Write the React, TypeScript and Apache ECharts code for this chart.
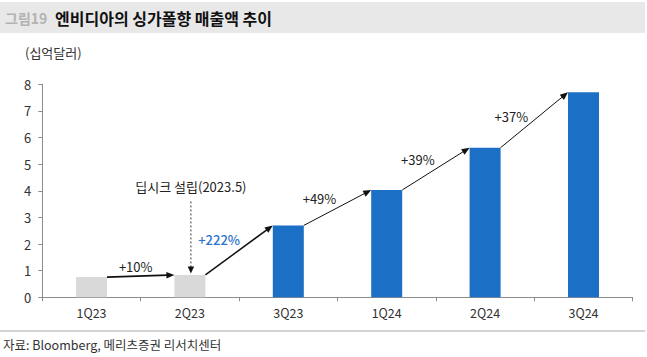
import React, { useEffect, useRef } from "react";
import * as echarts from "echarts";

// ---- data ----
const categories = ["1Q23", "2Q23", "3Q23", "1Q24", "2Q24", "3Q24"];
const revenue = [0.76, 0.84, 2.7, 4.03, 5.62, 7.7];
const beforeDeepSeek = [true, true, false, false, false, false];
const growthLabels = ["+10%", "+222%", "+49%", "+39%", "+37%"];
const highlightedGrowth = [false, true, false, false, false];
const yMin = 0;
const yMax = 8;
const yInterval = 1;
const deepSeekLabel = "딥시크 설립(2023.5)";
const deepSeekIndex = 1;
const titlePrefix = "그림19";
const titleText = "엔비디아의 싱가폴향 매출액 추이";
const unitText = "(십억달러)";
const sourceText = "자료: Bloomberg, 메리츠증권 리서치센터";

// ---- layout / style ----
const FONT = "'Noto Sans CJK KR', 'Noto Sans', sans-serif";
const BAR_RATIO = 0.315;
const GRAY = "#d9d9d9";
const BLUE = "#1b6fc5";
const LABEL_BLUE = "#2b74c9";
const LABEL_OFFSETS = [
  [-5, -10],
  [-20, -11],
  [-18, -9],
  [-18, -9],
  [-23, -3],
];
const ARROW_WIDTHS = [1.8, 1.5, 1, 1, 1];

export default function App() {
  const ref = useRef<HTMLDivElement>(null);

  useEffect(() => {
    if (!ref.current) return;
    const chart = echarts.init(ref.current, null, { renderer: "svg" });

    const arrowData = growthLabels.map((_, i) => [i, revenue[i], i + 1, revenue[i + 1], i]);

    const option: any = {
      animation: false,
      textStyle: { fontFamily: FONT },
      grid: { left: 42.3, right: 14.3, top: 84.3, bottom: 59.7, containLabel: false },
      xAxis: {
        type: "category",
        data: categories,
        boundaryGap: true,
        axisLine: { show: true, lineStyle: { color: "#8c8c8c", width: 1 } },
        axisTick: { show: true, length: 4, lineStyle: { color: "#8c8c8c" } },
        axisLabel: { color: "#333", fontSize: 12.5, margin: 9, fontFamily: FONT },
        splitLine: { show: false },
      },
      yAxis: {
        type: "value",
        min: yMin,
        max: yMax,
        interval: yInterval,
        axisLine: { show: true, lineStyle: { color: "#8c8c8c", width: 1 } },
        axisTick: { show: true, length: 4, lineStyle: { color: "#8c8c8c" } },
        axisLabel: { color: "#333", fontSize: 13, margin: 11, fontFamily: FONT },
        splitLine: { show: false },
      },
      series: [
        {
          type: "bar",
          barWidth: BAR_RATIO * 100 + "%",
          z: 2,
          data: revenue.map((v, i) => ({
            value: v,
            itemStyle: { color: beforeDeepSeek[i] ? GRAY : BLUE },
          })),
        },
        {
          type: "custom",
          z: 3,
          encode: { x: 0, y: 1 },
          data: arrowData,
          renderItem: (params: any, api: any) => {
            const i = api.value(0);
            const v0 = api.value(1);
            const j = api.value(2);
            const v1 = api.value(3);
            const k = api.value(4);
            const p0 = api.coord([i, v0]);
            const p1 = api.coord([j, v1]);
            const bw = api.size([1, 0])[0];
            const half = (bw * BAR_RATIO) / 2;
            const sx = p0[0] + half;
            const sy = p0[1];
            const ex = p1[0] - half;
            const ey = p1[1];
            const dx = ex - sx;
            const dy = ey - sy;
            const len = Math.hypot(dx, dy);
            const ux = dx / len;
            const uy = dy / len;
            const headL = 8;
            const headW = 3.3;
            const bx = ex - ux * headL;
            const by = ey - uy * headL;
            const px = -uy;
            const py = ux;
            const off = LABEL_OFFSETS[k];
            return {
              type: "group",
              children: [
                {
                  type: "line",
                  shape: { x1: sx, y1: sy, x2: bx + ux * 1, y2: by + uy * 1 },
                  style: { stroke: "#111", lineWidth: ARROW_WIDTHS[k] },
                },
                {
                  type: "polygon",
                  shape: {
                    points: [
                      [ex, ey],
                      [bx + px * headW, by + py * headW],
                      [bx - px * headW, by - py * headW],
                    ],
                  },
                  style: { fill: "#111" },
                },
                {
                  type: "text",
                  style: {
                    text: growthLabels[k],
                    x: (sx + ex) / 2 + off[0],
                    y: (sy + ey) / 2 + off[1],
                    align: "center",
                    verticalAlign: "middle",
                    fill: highlightedGrowth[k] ? LABEL_BLUE : "#222",
                    font: `${highlightedGrowth[k] ? "500 " : ""}13px ${FONT}`,
                  },
                },
              ],
            };
          },
        },
        {
          type: "custom",
          z: 3,
          encode: { x: 0, y: 1 },
          data: [[deepSeekIndex, revenue[deepSeekIndex]]],
          renderItem: (params: any, api: any) => {
            const p = api.coord([api.value(0), api.value(1)]);
            const x = p[0] + 1;
            const tipY = p[1] - 1.5;
            const topY = p[1] - 73.5;
            const headL = 7;
            const headW = 3.2;
            return {
              type: "group",
              children: [
                {
                  type: "line",
                  shape: { x1: x, y1: topY, x2: x, y2: tipY - headL + 1 },
                  style: { stroke: "#333", lineWidth: 1, lineDash: [2, 2] },
                },
                {
                  type: "polygon",
                  shape: {
                    points: [
                      [x, tipY],
                      [x - headW, tipY - headL],
                      [x + headW, tipY - headL],
                    ],
                  },
                  style: { fill: "#111" },
                },
                {
                  type: "text",
                  style: {
                    text: deepSeekLabel,
                    x: x,
                    y: p[1] - 88.5,
                    align: "center",
                    verticalAlign: "middle",
                    fill: "#222",
                    font: `13px ${FONT}`,
                  },
                },
              ],
            };
          },
        },
      ],
      graphic: [
        {
          type: "rect",
          silent: true,
          shape: { x: 0, y: 2, width: 645, height: 31 },
          style: { fill: "#e8e8e8" },
        },
        {
          type: "text",
          style: {
            text: titlePrefix,
            x: 5,
            y: 18,
            verticalAlign: "middle",
            fill: "#b3b3b3",
            font: `bold 14px ${FONT}`,
          },
        },
        {
          type: "text",
          style: {
            text: titleText,
            x: 55,
            y: 17.5,
            verticalAlign: "middle",
            fill: "#111",
            font: `bold 16px ${FONT}`,
          },
        },
        {
          type: "text",
          style: {
            text: unitText,
            x: 25,
            y: 52,
            verticalAlign: "middle",
            fill: "#333",
            font: `13px ${FONT}`,
          },
        },
        {
          type: "line",
          shape: { x1: 0, y1: 331, x2: 645, y2: 331 },
          style: { stroke: "#a6a6a6", lineWidth: 1 },
        },
        {
          type: "text",
          style: {
            text: sourceText,
            x: 3,
            y: 344.5,
            verticalAlign: "middle",
            fill: "#333",
            font: `12.5px ${FONT}`,
          },
        },
      ],
    };

    chart.setOption(option);
    return () => chart.dispose();
  }, []);

  return (
    <div
      ref={ref}
      style={{ position: "fixed", left: 0, top: 0, width: 647, height: 357, background: "#fff" }}
    />
  );
}
